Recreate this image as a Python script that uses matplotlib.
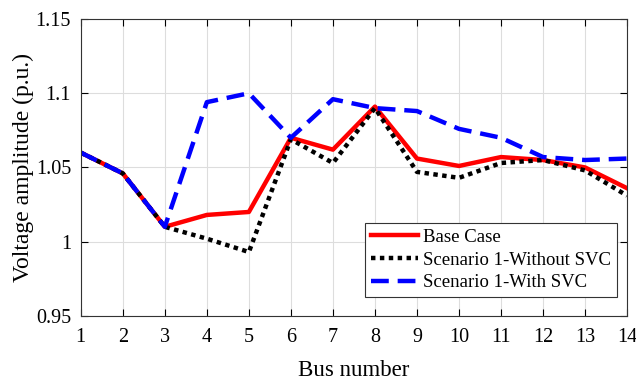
import matplotlib
matplotlib.use("Agg")
import matplotlib.pyplot as plt
import matplotlib.ticker as mticker
import numpy as np

plt.rcParams["font.family"] = ["Liberation Serif", "DejaVu Serif"]

bus = np.arange(1, 15)
base_case = [1.060, 1.046, 1.010, 1.018, 1.020, 1.070, 1.062, 1.091, 1.056, 1.051, 1.057, 1.055, 1.050, 1.036]
without_svc = [1.060, 1.046, 1.010, 1.002, 0.993, 1.069, 1.053, 1.090, 1.047, 1.043, 1.053, 1.055, 1.048, 1.031]
with_svc = [1.060, 1.046, 1.010, 1.094, 1.100, 1.070, 1.096, 1.090, 1.088, 1.076, 1.070, 1.057, 1.055, 1.056]

fig = plt.figure(figsize=(6.36, 3.81), dpi=100)
ax = fig.add_axes([0.127, 0.171, 0.859, 0.779])

ax.plot(bus, base_case, color="red", linewidth=3.2, label="Base Case")
ax.plot(bus, without_svc, color="black", linewidth=3.2, linestyle=(0, (1, 1)), label="Scenario 1-Without SVC")
ax.plot(bus, with_svc, color="blue", linewidth=3.2, linestyle=(0, (4, 2)), label="Scenario 1-With SVC")

ax.set_xlim(1, 14)
ax.set_ylim(0.95, 1.15)
ax.set_xticks(bus)
ax.set_yticks([0.95, 1.0, 1.05, 1.1, 1.15])
ax.yaxis.set_major_formatter(mticker.FormatStrFormatter("%g"))
ax.tick_params(direction="in", labelsize=14.5, top=True, right=True, length=5, width=0.8)
ax.tick_params(axis="x", pad=9)
ax.tick_params(axis="y", pad=7)
ax.grid(True, color="#dddddd", linewidth=0.8)
ax.set_axisbelow(True)
for s in ax.spines.values():
    s.set_color("#333333")

ax.set_xlabel("Bus number", fontsize=16.5, labelpad=9)
ax.set_ylabel("Voltage amplitude (p.u.)", fontsize=17, labelpad=1)

leg = ax.legend(loc="lower right", bbox_to_anchor=(0.970, 0.2205), bbox_transform=fig.transFigure,
                fontsize=13.5, fancybox=False, framealpha=1,
                edgecolor="#333333", handlelength=2.5, borderpad=0.3,
                labelspacing=0.3, handletextpad=0.3, borderaxespad=0)
leg.get_frame().set_linewidth(0.8)

fig.savefig("out.png", dpi=100)
